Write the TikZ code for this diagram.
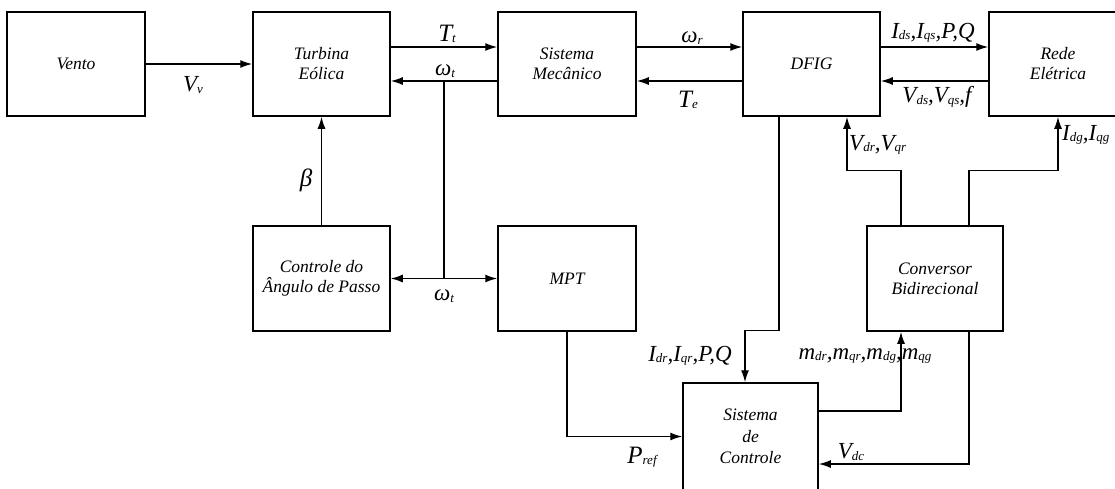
\documentclass[tikz,border=0pt]{standalone}
\usepackage{fontspec}
\setmainfont{Liberation Serif}
\usetikzlibrary{arrows.meta}
% subscript of a signal name
\newcommand{\sbs}[1]{\raisebox{-1.5pt}{\fontsize{13}{13}\selectfont #1}}
\begin{document}
\begin{tikzpicture}[
  x=1pt, y=-1pt,
  box/.style={draw, line width=1.5pt, minimum width=137pt, minimum height=104pt,
    inner sep=0pt, align=center,
    font=\itshape\fontsize{17.5}{20}\selectfont},
  arr/.style={line width=1.4pt, -{Latex[length=12pt,width=8pt]}},
  wire/.style={line width=1.4pt},
  lab/.style={inner sep=0pt, font=\itshape\fontsize{23}{23}\selectfont},
  labbig/.style={inner sep=0pt, font=\itshape\fontsize{25}{25}\selectfont}
]
\useasboundingbox (0,0) rectangle (1115,488);

% blocks
\node[box, minimum width=138pt] (vento) at (76,64)    {Vento};
\node[box] (turb)  at (321.5,64) {Turbina\\Eólica};
\node[box, minimum width=138pt] (mec) at (567,64) {Sistema\\Mecânico};
\node[box] (dfig)  at (811.5,64) {DFIG};
\node[box, minimum width=138pt] (rede) at (1058,64) {Rede\\Elétrica};
\node[box, minimum height=105pt] (ctrl) at (321.5,278.5) {Controle do\\Ângulo de Passo};
\node[box, minimum width=138pt, minimum height=105pt] (mpt) at (567,278.5) {MPT};
\node[box, minimum width=136pt, minimum height=105pt] (conv) at (935,278.5) {Conversor\\Bidirecional};
\node[box, minimum width=135pt, minimum height=107pt,
      font=\itshape\fontsize{17.5}{21.5}\selectfont] (sc) at (750.5,436.5) {Sistema\\de\\Controle};

% mechanical chain
\draw[arr] (vento.east) -- (turb.west);
\draw[arr] ([yshift=17pt]turb.east) -- ([yshift=17pt]mec.west);
\draw[arr] ([yshift=-17pt]mec.west) -- ([yshift=-17pt]turb.east);
\draw[arr] ([yshift=17pt]mec.east) -- ([yshift=17pt]dfig.west);
\draw[arr] ([yshift=-17pt]dfig.west) -- ([yshift=-17pt]mec.east);
\draw[arr] ([yshift=17pt]dfig.east) -- ([yshift=17pt]rede.west);
\draw[arr] ([yshift=-17pt]rede.west) -- ([yshift=-17pt]dfig.east);

% turbine speed branch
\coordinate (tap) at (444,81);
\coordinate (junc) at (444,278.5);
\draw[wire] (tap) -- (junc);
\draw[arr] (junc) -- (ctrl.east);
\draw[arr] (junc) -- (mpt.west);
\draw[arr] (ctrl.north) -- (turb.south);

% control paths
\draw[arr] (mpt.south) |- (sc.west);
\draw[arr] ([xshift=-32.5pt]dfig.south) -- ++(0,-214pt) -| ([xshift=-5.5pt]sc.north);
\draw[arr] ([yshift=25.5pt]sc.east) -| ([xshift=-34pt]conv.south);
\draw[arr] ([xshift=34pt]conv.south) |- ([yshift=-27.5pt]sc.east);
\draw[arr] ([xshift=-34pt]conv.north) -- ++(0,55pt) -| ([xshift=35.5pt]dfig.south);
\draw[arr] ([xshift=34pt]conv.north) -- ++(0,55pt) -| (rede.south);

% signal names
\node[lab] (lVv) at (193,85) {V\sbs{v}};
\node[labbig] (lTt) at (447,34) {T\sbs{t}};
\node[lab] (lwt) at (445,71) {ω\sbs{t}};
\node[lab] (lwr) at (692,38) {ω\sbs{r}};
\node[labbig] (lTe) at (688,100) {T\sbs{e}};
\node[lab] (lIds) at (933,33) {I\sbs{ds},I\sbs{qs},P,Q};
\node[lab] (lVds) at (937,97) {V\sbs{ds},V\sbs{qs},f};
\node[lab, anchor=west] (lVdr) at (849,145) {V\sbs{dr},V\sbs{qr}};
\node[lab, anchor=west] (lIdg) at (1062,135) {I\sbs{dg},I\sbs{qg}};
\node[labbig] (lbeta) at (306,180) {β};
\node[lab] (lwt2) at (444,296) {ω\sbs{t}};
\node[labbig] (lPref) at (642,457) {P\sbs{ref}};
\node[lab] (lIdr) at (690,356) {I\sbs{dr},I\sbs{qr},P,Q};
\node[lab] (lm) at (865,356) {m\sbs{dr},m\sbs{qr},m\sbs{dg},m\sbs{qg}};
\node[lab] (lVdc) at (851,452) {V\sbs{dc}};
\end{tikzpicture}
\end{document}
